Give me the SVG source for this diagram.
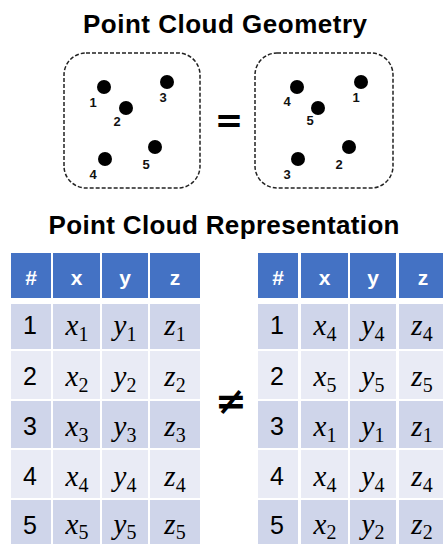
<svg xmlns="http://www.w3.org/2000/svg" width="443" height="544" viewBox="0 0 443 544">
<style>
.title{font-family:"Liberation Sans",Arial,sans-serif;font-weight:bold;font-size:26px;fill:#000;text-anchor:middle}
.box{fill:none;stroke:#222;stroke-width:1.5;stroke-dasharray:4 2}
.dot{fill:#000}
.lbl{font-family:"Liberation Sans",Arial,sans-serif;font-weight:bold;font-size:13px;fill:#111;text-anchor:middle}
.hd{fill:#4472C4}
.r1{fill:#CFD5EA}
.r2{fill:#E9EBF5}
.ht{font-family:"Liberation Sans",Arial,sans-serif;font-weight:bold;font-size:21px;fill:#fff;text-anchor:middle}
.num{font-family:"Liberation Sans",Arial,sans-serif;font-size:25px;fill:#000;text-anchor:middle}
.m{font-family:"Liberation Serif","Times New Roman",serif;font-size:29px;fill:#000;text-anchor:middle}
.v{font-style:italic}
.s{font-size:20px}
.sym{font-family:"DejaVu Sans",sans-serif;font-weight:bold;fill:#000;text-anchor:middle}
</style>
<rect width="443" height="544" fill="#fff"/>
<text class="title" x="225" y="33" textLength="284">Point Cloud Geometry</text>
<g id="geomLeft">
<rect class="box" x="64" y="53" width="136" height="135" rx="22"/>
<circle class="dot" cx="104" cy="87" r="7"/><text class="lbl" x="93" y="107">1</text>
<circle class="dot" cx="126" cy="108" r="7"/><text class="lbl" x="117" y="126">2</text>
<circle class="dot" cx="167" cy="82" r="7"/><text class="lbl" x="163" y="102">3</text>
<circle class="dot" cx="105" cy="159" r="7"/><text class="lbl" x="93" y="179">4</text>
<circle class="dot" cx="155" cy="147" r="7"/><text class="lbl" x="146" y="169">5</text>
</g>
<g id="equals"><text class="sym" x="229" y="132" font-size="34">=</text></g>
<g id="geomRight">
<rect class="box" x="255" y="53" width="138" height="135" rx="22"/>
<circle class="dot" cx="297" cy="87" r="7"/><text class="lbl" x="287" y="106">4</text>
<circle class="dot" cx="361" cy="82" r="7"/><text class="lbl" x="356" y="102">1</text>
<circle class="dot" cx="318" cy="108" r="7"/><text class="lbl" x="310" y="125">5</text>
<circle class="dot" cx="349" cy="147" r="7"/><text class="lbl" x="339" y="169">2</text>
<circle class="dot" cx="298" cy="159" r="7"/><text class="lbl" x="287" y="179">3</text>
</g>
<text class="title" x="224" y="234" textLength="351">Point Cloud Representation</text>
<g id="tableLeft">
<rect class="hd" x="11" y="253" width="40" height="45"/><rect class="hd" x="53" y="253" width="47" height="45"/><rect class="hd" x="102" y="253" width="46" height="45"/><rect class="hd" x="150" y="253" width="50" height="45"/>
<text class="ht" x="31" y="285">#</text><text class="ht" x="76.5" y="285">x</text><text class="ht" x="125" y="285">y</text><text class="ht" x="175" y="285">z</text>
<rect class="r1" x="11" y="304" width="40" height="45"/><rect class="r1" x="53" y="304" width="47" height="45"/><rect class="r1" x="102" y="304" width="46" height="45"/><rect class="r1" x="150" y="304" width="50" height="45"/>
<rect class="r2" x="11" y="351" width="40" height="48"/><rect class="r2" x="53" y="351" width="47" height="48"/><rect class="r2" x="102" y="351" width="46" height="48"/><rect class="r2" x="150" y="351" width="50" height="48"/>
<rect class="r1" x="11" y="401" width="40" height="47"/><rect class="r1" x="53" y="401" width="47" height="47"/><rect class="r1" x="102" y="401" width="46" height="47"/><rect class="r1" x="150" y="401" width="50" height="47"/>
<rect class="r2" x="11" y="450" width="40" height="48"/><rect class="r2" x="53" y="450" width="47" height="48"/><rect class="r2" x="102" y="450" width="46" height="48"/><rect class="r2" x="150" y="450" width="50" height="48"/>
<rect class="r1" x="11" y="500" width="40" height="48"/><rect class="r1" x="53" y="500" width="47" height="48"/><rect class="r1" x="102" y="500" width="46" height="48"/><rect class="r1" x="150" y="500" width="50" height="48"/>
<text class="num" x="30" y="334">1</text>
<text class="m" x="77" y="335"><tspan class="v">x</tspan><tspan class="s" dy="6">1</tspan></text>
<text class="m" x="125" y="335"><tspan class="v">y</tspan><tspan class="s" dy="6">1</tspan></text>
<text class="m" x="175" y="335"><tspan class="v">z</tspan><tspan class="s" dy="6">1</tspan></text>
<text class="num" x="30" y="385">2</text>
<text class="m" x="77" y="386"><tspan class="v">x</tspan><tspan class="s" dy="6">2</tspan></text>
<text class="m" x="125" y="386"><tspan class="v">y</tspan><tspan class="s" dy="6">2</tspan></text>
<text class="m" x="175" y="386"><tspan class="v">z</tspan><tspan class="s" dy="6">2</tspan></text>
<text class="num" x="30" y="435">3</text>
<text class="m" x="77" y="436"><tspan class="v">x</tspan><tspan class="s" dy="6">3</tspan></text>
<text class="m" x="125" y="436"><tspan class="v">y</tspan><tspan class="s" dy="6">3</tspan></text>
<text class="m" x="175" y="436"><tspan class="v">z</tspan><tspan class="s" dy="6">3</tspan></text>
<text class="num" x="30" y="485">4</text>
<text class="m" x="77" y="486"><tspan class="v">x</tspan><tspan class="s" dy="6">4</tspan></text>
<text class="m" x="125" y="486"><tspan class="v">y</tspan><tspan class="s" dy="6">4</tspan></text>
<text class="m" x="175" y="486"><tspan class="v">z</tspan><tspan class="s" dy="6">4</tspan></text>
<text class="num" x="30" y="534">5</text>
<text class="m" x="77" y="534"><tspan class="v">x</tspan><tspan class="s" dy="5">5</tspan></text>
<text class="m" x="125" y="534"><tspan class="v">y</tspan><tspan class="s" dy="5">5</tspan></text>
<text class="m" x="175" y="534"><tspan class="v">z</tspan><tspan class="s" dy="5">5</tspan></text>
</g>
<g id="notEqual"><text class="sym" x="231" y="414" font-size="38">≠</text></g>
<g id="tableRight">
<rect class="hd" x="258" y="253" width="40" height="45"/><rect class="hd" x="301" y="253" width="47" height="45"/><rect class="hd" x="350" y="253" width="46" height="45"/><rect class="hd" x="399" y="253" width="48" height="45"/>
<text class="ht" x="278" y="285">#</text><text class="ht" x="324.5" y="285">x</text><text class="ht" x="373" y="285">y</text><text class="ht" x="423" y="285">z</text>
<rect class="r1" x="258" y="304" width="40" height="45"/><rect class="r1" x="301" y="304" width="47" height="45"/><rect class="r1" x="350" y="304" width="46" height="45"/><rect class="r1" x="399" y="304" width="48" height="45"/>
<rect class="r2" x="258" y="351" width="40" height="48"/><rect class="r2" x="301" y="351" width="47" height="48"/><rect class="r2" x="350" y="351" width="46" height="48"/><rect class="r2" x="399" y="351" width="48" height="48"/>
<rect class="r1" x="258" y="401" width="40" height="47"/><rect class="r1" x="301" y="401" width="47" height="47"/><rect class="r1" x="350" y="401" width="46" height="47"/><rect class="r1" x="399" y="401" width="48" height="47"/>
<rect class="r2" x="258" y="450" width="40" height="48"/><rect class="r2" x="301" y="450" width="47" height="48"/><rect class="r2" x="350" y="450" width="46" height="48"/><rect class="r2" x="399" y="450" width="48" height="48"/>
<rect class="r1" x="258" y="500" width="40" height="48"/><rect class="r1" x="301" y="500" width="47" height="48"/><rect class="r1" x="350" y="500" width="46" height="48"/><rect class="r1" x="399" y="500" width="48" height="48"/>
<text class="num" x="277" y="334">1</text>
<text class="m" x="325" y="335"><tspan class="v">x</tspan><tspan class="s" dy="6">4</tspan></text>
<text class="m" x="373" y="335"><tspan class="v">y</tspan><tspan class="s" dy="6">4</tspan></text>
<text class="m" x="422" y="335"><tspan class="v">z</tspan><tspan class="s" dy="6">4</tspan></text>
<text class="num" x="277" y="385">2</text>
<text class="m" x="325" y="386"><tspan class="v">x</tspan><tspan class="s" dy="6">5</tspan></text>
<text class="m" x="373" y="386"><tspan class="v">y</tspan><tspan class="s" dy="6">5</tspan></text>
<text class="m" x="422" y="386"><tspan class="v">z</tspan><tspan class="s" dy="6">5</tspan></text>
<text class="num" x="277" y="435">3</text>
<text class="m" x="325" y="436"><tspan class="v">x</tspan><tspan class="s" dy="6">1</tspan></text>
<text class="m" x="373" y="436"><tspan class="v">y</tspan><tspan class="s" dy="6">1</tspan></text>
<text class="m" x="422" y="436"><tspan class="v">z</tspan><tspan class="s" dy="6">1</tspan></text>
<text class="num" x="277" y="485">4</text>
<text class="m" x="325" y="486"><tspan class="v">x</tspan><tspan class="s" dy="6">4</tspan></text>
<text class="m" x="373" y="486"><tspan class="v">y</tspan><tspan class="s" dy="6">4</tspan></text>
<text class="m" x="422" y="486"><tspan class="v">z</tspan><tspan class="s" dy="6">4</tspan></text>
<text class="num" x="277" y="534">5</text>
<text class="m" x="325" y="534"><tspan class="v">x</tspan><tspan class="s" dy="5">2</tspan></text>
<text class="m" x="373" y="534"><tspan class="v">y</tspan><tspan class="s" dy="5">2</tspan></text>
<text class="m" x="422" y="534"><tspan class="v">z</tspan><tspan class="s" dy="5">2</tspan></text>
</g>
</svg>
